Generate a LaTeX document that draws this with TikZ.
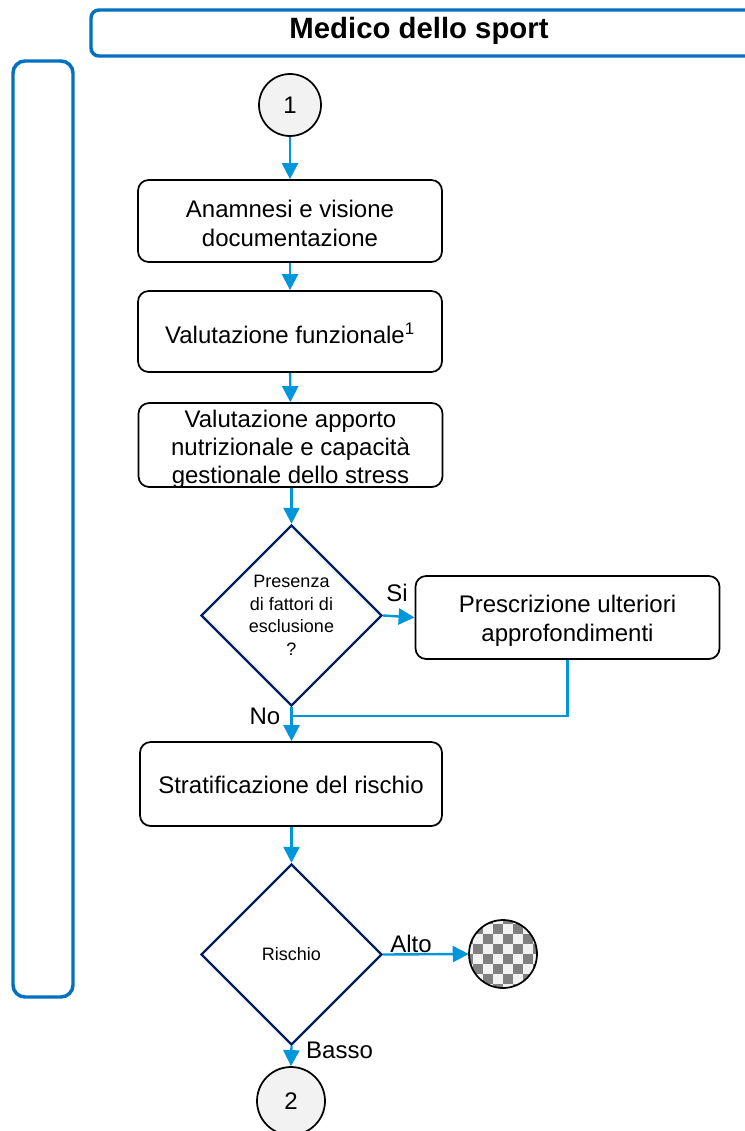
\documentclass[tikz,border=0pt]{standalone}
\usepackage{fontspec}
\setmainfont{Liberation Sans}
\usetikzlibrary{arrows.meta,shapes.geometric}
\definecolor{frameblue}{RGB}{0,112,192}
\definecolor{flowblue}{RGB}{0,150,219}
\definecolor{navy}{RGB}{0,32,96}
\definecolor{lightfill}{RGB}{242,242,242}
\definecolor{checkgray}{RGB}{128,128,128}
\tikzset{
  stepbox/.style={draw=black, line width=1.3pt, rounded corners=8pt, fill=white,
    minimum width=228pt, minimum height=62pt, inner sep=0pt, align=center,
    font=\fontsize{18}{21.75}\selectfont},
  boxtext/.style={align=center, inner sep=0pt, font=\fontsize{18}{21.75}\selectfont},
  decision/.style={diamond, draw=navy, line width=1.8pt, aspect=1, inner sep=0pt,
    minimum size=135.75pt, align=center, font=\fontsize{13.5}{16.9}\selectfont},
  connector/.style={circle, draw=black, line width=1.3pt, fill=lightfill, inner sep=0pt,
    font=\fontsize{18}{21}\selectfont},
  flow/.style={draw=flowblue, line width=1.8pt, -{Triangle[length=12pt,width=12pt]}},
  flowline/.style={draw=flowblue, line width=1.8pt},
  branch/.style={font=\fontsize{18}{21}\selectfont, inner sep=0pt},
  lane/.style={draw=frameblue, line width=2.6pt, fill=white}
}
\begin{document}
\begin{tikzpicture}[x=0.75pt,y=-0.75pt]
\useasboundingbox (0,0) rectangle (744,1131);

% swimlane frames
\draw[lane, rounded corners=6pt] (91,10) rectangle (760,56);
\node[font=\bfseries\fontsize{22}{26}\selectfont] (title) at (419,31) {Medico dello sport};
\draw[lane, rounded corners=9pt] (13,61) rectangle (73,997);

% flow nodes
\node[connector, minimum size=46.5pt] (start) at (290,105) {1};
\node[stepbox, minimum height=61.5pt] (anam) at (290,221) {};
\node[boxtext] (anamtext) at (290,223.5) {Anamnesi e visione\\documentazione};
\node[stepbox, minimum height=60.75pt] (funz) at (290,331.5) {};
\node[boxtext] (funztext) at (290,333.5) {Valutazione funzionale\textsuperscript{1}};
\node[stepbox, minimum height=63pt] (nutr) at (290.5,445) {};
\node[align=center, inner sep=0pt, font=\fontsize{18}{21}\selectfont] (nutrtext) at (290.5,449.5)
  {Valutazione apporto\\nutrizionale e capacità\\gestionale dello stress};
\node[decision] (escl) at (291.5,615.5) {Presenza\\di fattori di\\esclusione\\?};
\node[stepbox, minimum height=62.25pt] (appr) at (567.5,617.5) {};
\node[boxtext] (apprtext) at (567.5,621) {Prescrizione ulteriori\\approfondimenti};
\node[stepbox, minimum width=226.5pt, minimum height=63pt] (strat) at (291,784) {};
\node[boxtext] (strattext) at (291,785) {Stratificazione del rischio};
\node[decision] (risk) at (291.5,954.5) {Rischio};
\node[connector, minimum size=51pt] (stop) at (291,1101) {2};

% checkered terminal
\node[circle, minimum size=51pt, inner sep=0pt] (high) at (503,954) {};
\begin{scope}
  \clip (503,954) circle[radius=25.5pt];
  \fill[lightfill] (463,914) rectangle (543,994);
  \foreach \i in {0,...,7}{
    \foreach \j in {0,...,7}{
      \pgfmathparse{int(mod(\i+\j,2))}
      \ifnum\pgfmathresult=0
        \fill[checkgray] (463+\i*10,914+\j*10) rectangle ++(10,10);
      \fi
    }
  }
\end{scope}
\draw[line width=1.3pt] (503,954) circle[radius=25.5pt];

% connectors
\coordinate (merge) at (291.5,716);
\draw[flow] (start) -- (anam);
\draw[flow] (anam) -- (funz);
\draw[flow] (funz) -- (nutr);
\draw[flow] (nutr.south -| escl.north) -- (escl.north);
\draw[flow] (escl.east) -- (appr.west);
\draw[flowline] (appr.south) |- (merge);
\draw[flow] (escl.south) -- (strat.north -| escl.south);
\draw[flow] (strat.south -| risk.north) -- (risk.north);
\draw[flow] (risk.east) -- (high.west);
\draw[flow] (risk.south) -- (stop.north);

% branch labels
\node[branch] (si) at (397,593) {Si};
\node[branch] (no) at (265,716) {No};
\node[branch] (alto) at (411,944) {Alto};
\node[branch] (basso) at (339.5,1050) {Basso};
\end{tikzpicture}
\end{document}
